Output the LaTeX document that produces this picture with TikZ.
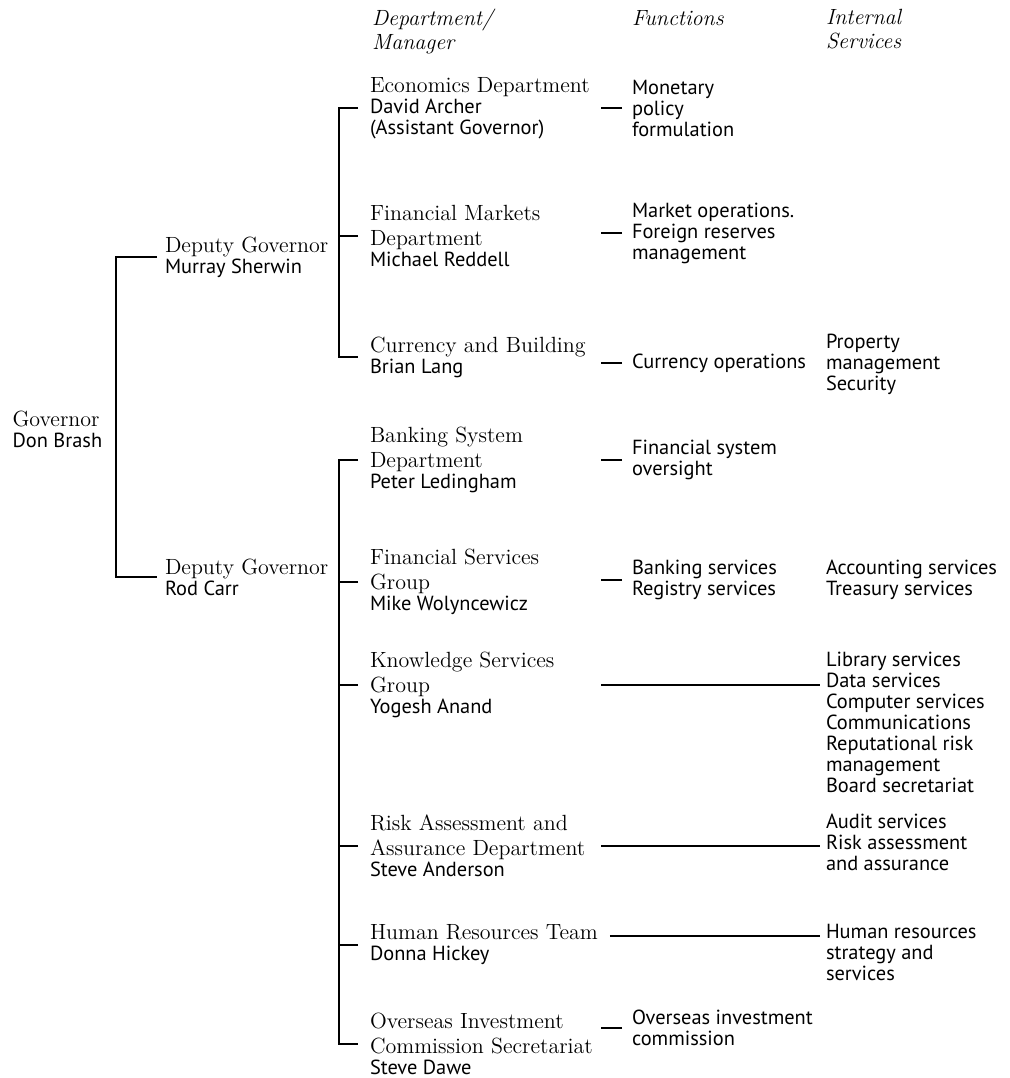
\documentclass[tikz,border=0pt]{standalone}
\usepackage{fontspec}
\setsansfont{PT Sans}
\usetikzlibrary{calc}
\newcommand\ttl[1]{{\rmfamily\fontsize{11}{12.5}\selectfont #1}}

\begin{document}
\begin{tikzpicture}[x=0.5pt, y=-0.5pt, line width=0.6pt]
\tikzstyle{every node}=[inner sep=0pt, anchor=west, align=left, font=\sffamily\fontsize{10.2}{10.5}\selectfont]
\tikzstyle{boss}=[outer sep=4pt]
\tikzstyle{dept}=[outer sep=6pt]
\tikzstyle{func}=[outer sep=5pt]
\tikzstyle{serv}=[outer sep=3pt]
\tikzstyle{head}=[outer sep=0pt, font=\rmfamily\itshape\fontsize{11}{12}\selectfont]
\useasboundingbox (0,0) rectangle (1010,1078);

\node[head] (hdep) at (372,31.5) {Department/\\Manager};
\node[head] (hfun) at (632,18)   {Functions};
\node[head] (hint) at (826,29.5) {Internal\\Services};

\node (gov) at (12,429) {\ttl{Governor}\\ Don Brash};
\node[boss] (dg1) at (157,257) {\ttl{Deputy Governor}\\ Murray Sherwin};
\node[boss] (dg2) at (157,577) {\ttl{Deputy Governor}\\ Rod Carr};

\node[dept] (eco) at (358,108)  {\ttl{Economics Department}\\ David Archer\\ (Assistant Governor)};
\node[dept] (fmd) at (358,236)  {\ttl{Financial Markets}\\[2pt] \ttl{Department}\\ Michael Reddell};
\node[dept] (cab) at (358,357)  {\ttl{Currency and Building}\\ Brian Lang};
\node[dept] (bsd) at (358,460)  {\ttl{Banking System}\\[2pt] \ttl{Department}\\ Peter Ledingham};
\node[dept] (fsg) at (358,582)  {\ttl{Financial Services}\\[2pt] \ttl{Group}\\ Mike Wolyncewicz};
\node[dept] (ksg) at (358,685)  {\ttl{Knowledge Services}\\[2pt] \ttl{Group}\\ Yogesh Anand};
\node[dept] (raa) at (358,846)  {\ttl{Risk Assessment and}\\[2pt] \ttl{Assurance Department}\\ Steve Anderson};
\node[dept] (hrt) at (358,945)  {\ttl{Human Resources Team}\\ Donna Hickey};
\node[dept] (oic) at (358,1044) {\ttl{Overseas Investment}\\[2pt] \ttl{Commission Secretariat}\\ Steve Dawe};

\node[func] (fmon)  at (622,108)  {Monetary\\ policy\\ formulation};
\node[func] (fmkt)  at (622,233)  {Market operations.\\ Foreign reserves\\ management};
\node[func] (fcur)  at (622,363)  {Currency operations};
\node[func] (ffin)  at (622,460)  {Financial system\\ oversight};
\node[func] (fbank) at (622,580)  {Banking services\\ Registry services};
\node[func] (foic)  at (622,1028) {Overseas investment\\ commission};

\node[serv] (iprop) at (820,364) {Property\\ management\\ Security};
\node[serv] (iacc)  at (820,580) {Accounting services\\ Treasury services};
\node[serv] (ilib)  at (820,722) {Library services\\ Data services\\ Computer services\\ Communications\\ Reputational risk\\ management\\ Board secretariat};
\node[serv] (iaud)  at (820,842) {Audit services\\ Risk assessment\\ and assurance};
\node[serv] (ihum)  at (820,952) {Human resources\\ strategy and\\ services};

\coordinate (gx) at (116,0);
\coordinate (dx) at (339,0);
\coordinate (fx) at (601,0);

\draw (dg1.west) -- (dg1.west -| gx) -- (dg2.west -| gx) -- (dg2.west);
\draw (eco.west) -- (eco.west -| dx) -- (cab.west -| dx) -- (cab.west);
\draw (fmd.west) -- (fmd.west -| dx);
\draw (bsd.west) -- (bsd.west -| dx) -- (oic.west -| dx) -- (oic.west);
\foreach \d in {fsg,ksg,raa,hrt}
  \draw (\d.west) -- (\d.west -| dx);

\foreach \f in {fmon,fmkt,fcur,ffin,fbank,foic}
  \draw (\f.west) -- (\f.west -| fx);

\draw (ksg.center -| fx) -- (ksg.center -| ilib.west);
\draw (raa.center -| fx) -- (raa.center -| iaud.west);
\draw ([yshift=4.5pt]hrt.east) -- ([yshift=4.5pt]hrt.east -| ihum.west);
\end{tikzpicture}
\end{document}
